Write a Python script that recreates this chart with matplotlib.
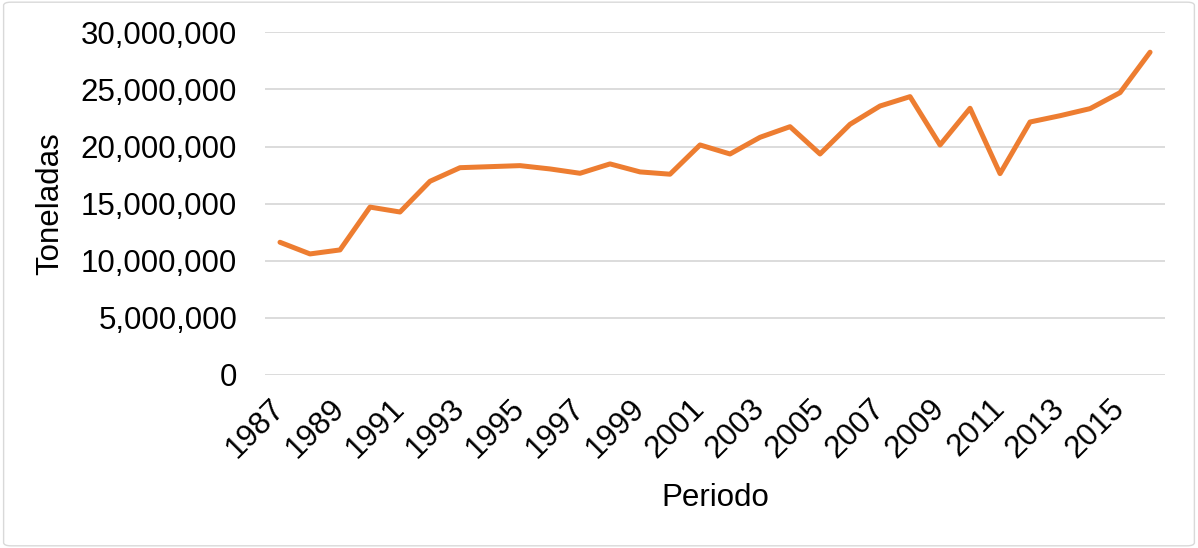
import matplotlib.pyplot as plt
from matplotlib.patches import FancyBboxPatch
from matplotlib.ticker import FuncFormatter

plt.rcParams['font.family'] = ['Liberation Sans', 'DejaVu Sans']

# years and tonnage
years = list(range(1987, 2017))
toneladas = [11620000, 10600000, 10950000, 14700000, 14270000, 16960000,
             18150000, 18240000, 18330000, 18040000, 17660000, 18480000,
             17780000, 17580000, 20140000, 19350000, 20810000, 21740000,
             19350000, 21950000, 23550000, 24370000, 20140000, 23350000,
             17630000, 22150000, 22700000, 23320000, 24720000, 28260000]
tick_labels = [str(y) if (y - 1987) % 2 == 0 else '' for y in years]

fig = plt.figure(figsize=(11.98, 5.48), dpi=100)
ax = fig.add_axes([0.2212, 0.3157, 0.7513, 0.6253])

x = list(range(len(years)))
ax.plot(x, toneladas, color='#ED7D31', linewidth=3.6,
        solid_joinstyle='round', solid_capstyle='round', zorder=3)

ax.set_xlim(-0.5, len(years) - 0.5)
ax.set_ylim(0, 30000000)
ax.set_yticks(range(0, 30000001, 5000000))
ax.yaxis.set_major_formatter(FuncFormatter(lambda v, p: f'{int(v):,}'))
ax.set_xticks(x)
ax.set_xticklabels(tick_labels, rotation=45, ha='right', va='center',
                   rotation_mode='anchor')

ax.grid(axis='y', color='#D9D9D9', linewidth=1.3)
ax.set_axisbelow(True)
for s in ax.spines.values():
    s.set_visible(False)
ax.tick_params(length=0, labelsize=22.5, colors='black')
ax.tick_params(axis='y', pad=20)
ax.tick_params(axis='x', pad=21)

ax.set_ylabel('Toneladas', fontsize=22.5)
ax.yaxis.set_label_coords(-0.222, 0.5)
ax.set_xlabel('Periodo', fontsize=22.5)
ax.xaxis.set_label_coords(0.5, -0.315)

border = FancyBboxPatch((0.003, 0.004), 0.994, 0.992,
                        boxstyle='round,pad=0,rounding_size=0.006',
                        transform=fig.transFigure, facecolor='none',
                        edgecolor='#D9D9D9', linewidth=1.0)
fig.patches.append(border)

fig.savefig('out.png', dpi=100)
